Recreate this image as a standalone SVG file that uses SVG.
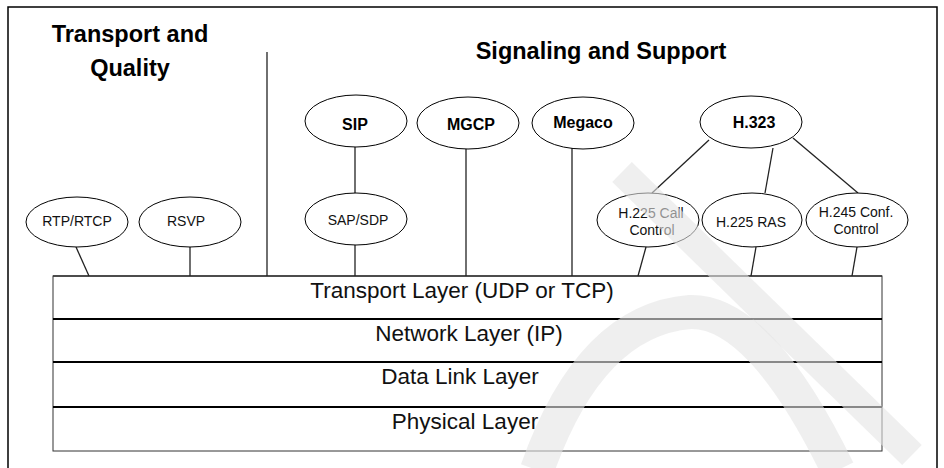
<svg xmlns="http://www.w3.org/2000/svg" width="944" height="468" viewBox="0 0 944 468">
<style>
  .frame { fill: none; stroke: #000; stroke-width: 1.5; }
  .node ellipse { fill: #fff; stroke: #000; stroke-width: 1; }
  .lbl { font-family: "Liberation Sans", Arial, sans-serif; font-size: 14px; fill: #111; text-anchor: middle; }
  .blbl { font-family: "Liberation Sans", Arial, sans-serif; font-size: 16px; font-weight: bold; fill: #000; text-anchor: middle; }
  .title { font-family: "Liberation Sans", Arial, sans-serif; font-size: 23.5px; font-weight: bold; fill: #000; text-anchor: middle; }
  .layer rect { fill: none; stroke: #333; stroke-width: 1; }
  .layerline { stroke: #000; stroke-width: 2; }
  .ltxt { font-family: "Liberation Sans", Arial, sans-serif; font-size: 22.5px; fill: #111; text-anchor: middle; }
  .conn line { stroke: #222; stroke-width: 1.3; }
  .wm { fill: none; stroke: #e4e4e4; stroke-opacity: 0.6; stroke-linecap: butt; }
</style>

<!-- outer frame -->
<path class="frame" d="M8 468 V7 H937 V468"/>

<!-- titles -->
<g id="title-transport">
  <text class="title" x="130" y="42">Transport and</text>
  <text class="title" x="130" y="76">Quality</text>
</g>
<g id="title-signaling">
  <text class="title" x="601" y="59">Signaling and Support</text>
</g>

<!-- protocol stack -->
<g id="stack" class="layer">
  <rect x="53" y="276" width="829" height="175"/>
  <line class="layerline" x1="53" y1="319" x2="882" y2="319"/>
  <line class="layerline" x1="53" y1="362" x2="882" y2="362"/>
  <line class="layerline" x1="53" y1="407" x2="882" y2="407"/>
  <line x1="53" y1="276" x2="882" y2="276" stroke="#333" stroke-width="1.3"/>
</g>
<g id="layer-transport"><text class="ltxt" x="462" y="298">Transport Layer (UDP or TCP)</text></g>
<g id="layer-network"><text class="ltxt" x="469" y="341">Network Layer (IP)</text></g>
<g id="layer-datalink"><text class="ltxt" x="460" y="384">Data Link Layer</text></g>
<g id="layer-physical"><text class="ltxt" x="465" y="429">Physical Layer</text></g>

<!-- connectors -->
<g id="connectors" class="conn">
  <line x1="267" y1="52" x2="267" y2="276"/>
  <line x1="76" y1="247" x2="89" y2="276"/>
  <line x1="190" y1="247" x2="190" y2="276"/>
  <line x1="355" y1="147" x2="355" y2="193"/>
  <line x1="355" y1="245" x2="355" y2="276"/>
  <line x1="466" y1="149" x2="466" y2="276"/>
  <line x1="572" y1="148" x2="572" y2="276"/>
  <line x1="709" y1="140" x2="652" y2="193"/>
  <line x1="773" y1="148" x2="765" y2="193"/>
  <line x1="793" y1="138" x2="858" y2="193"/>
  <line x1="646" y1="247" x2="638" y2="276"/>
  <line x1="756" y1="247" x2="751" y2="276"/>
  <line x1="857" y1="247" x2="852" y2="276"/>
</g>

<!-- nodes -->
<g id="rtp" class="node">
  <ellipse cx="77" cy="222" rx="51" ry="25"/>
  <text class="lbl" x="77" y="226">RTP/RTCP</text>
</g>
<g id="rsvp" class="node">
  <ellipse cx="190" cy="222" rx="51" ry="25"/>
  <text class="lbl" x="186" y="226">RSVP</text>
</g>
<g id="sip" class="node">
  <ellipse cx="356" cy="121" rx="51" ry="26"/>
  <text class="blbl" x="355" y="130">SIP</text>
</g>
<g id="sapsdp" class="node">
  <ellipse cx="356" cy="219" rx="51" ry="26"/>
  <text class="lbl" x="358" y="225">SAP/SDP</text>
</g>
<g id="mgcp" class="node">
  <ellipse cx="468" cy="123" rx="51" ry="26"/>
  <text class="blbl" x="471" y="130">MGCP</text>
</g>
<g id="megaco" class="node">
  <ellipse cx="583" cy="123" rx="51" ry="26"/>
  <text class="blbl" x="583" y="128">Megaco</text>
</g>
<g id="h323" class="node">
  <ellipse cx="751" cy="122" rx="51" ry="26"/>
  <text class="blbl" x="754" y="128">H.323</text>
</g>
<g id="h225call" class="node">
  <ellipse cx="648" cy="220" rx="51" ry="27"/>
  <text class="lbl" x="651" y="218">H.225 Call</text>
  <text class="lbl" x="652" y="235">Control</text>
</g>
<g id="h225ras" class="node">
  <ellipse cx="752" cy="220" rx="50" ry="27"/>
  <text class="lbl" x="751" y="227">H.225 RAS</text>
</g>
<g id="h245" class="node">
  <ellipse cx="857" cy="220" rx="51" ry="27"/>
  <text class="lbl" x="856" y="217">H.245 Conf.</text>
  <text class="lbl" x="856" y="234">Control</text>
</g>

<!-- faint watermark -->
<g id="watermark">
  <path class="wm" stroke-width="28" d="M622 172 L912 455"/>
  <path class="wm" stroke-width="34" d="M537 470 Q590 320 690 312 Q760 310 838 470"/>
</g>
</svg>
